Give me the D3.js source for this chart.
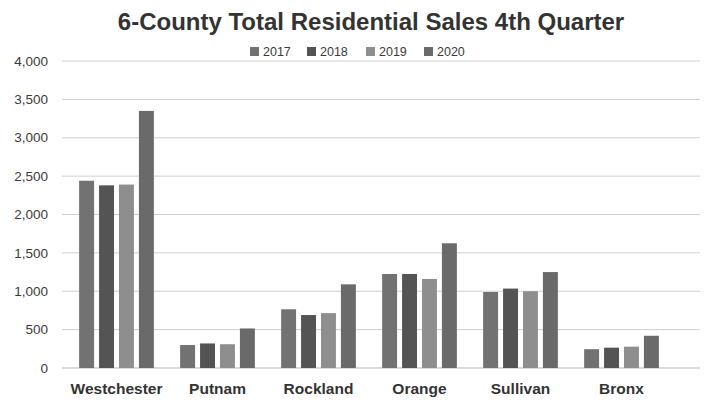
<!DOCTYPE html>
<html>
<head>
<meta charset="utf-8">
<script src="https://cdn.jsdelivr.net/npm/d3@7"></script>
<style>
  body { margin: 0; background: #fff; }
  text { font-family: "Liberation Sans", Arial, sans-serif; }
  .title { font-size: 24px; font-weight: bold; fill: #333; }
  .ytick text { font-size: 13.5px; fill: #3a3a3a; }
  .xlab { font-size: 15.5px; font-weight: bold; fill: #333; }
  .legend text { font-size: 12.5px; fill: #3a3a3a; }
</style>
</head>
<body>
<div class="canvas"></div>
<script>
// data
var counties = ["Westchester", "Putnam", "Rockland", "Orange", "Sullivan", "Bronx"];
var years = ["2017", "2018", "2019", "2020"];
var sales2017 = [2440, 300, 765, 1225, 990, 245];
var sales2018 = [2380, 320, 690, 1225, 1035, 265];
var sales2019 = [2390, 310, 715, 1160, 1000, 278];
var sales2020 = [3350, 515, 1090, 1625, 1250, 420];
var yTicks = [0, 500, 1000, 1500, 2000, 2500, 3000, 3500, 4000];

var series = [sales2017, sales2018, sales2019, sales2020];
var colors = ["#727272", "#545454", "#8e8e8e", "#6a6a6a"];

var svg = d3.select(".canvas")
    .append("svg")
    .attr("width", 710)
    .attr("height", 401);

var y = d3.scaleLinear().domain([0, 4000]).range([368, 61]);

var x = d3.scaleBand()
    .domain(counties)
    .range([66, 672])
    .paddingInner(0.26)
    .paddingOuter(0.13);

var xi = d3.scaleBand()
    .domain(years)
    .range([0, x.bandwidth()])
    .paddingInner(0.25);

// title
svg.append("text")
    .attr("class", "title")
    .attr("x", 371)
    .attr("y", 30)
    .attr("text-anchor", "middle")
    .text("6-County Total Residential Sales 4th Quarter");

// gridlines + y labels
var yAxis = svg.append("g")
    .attr("class", "ytick");

yAxis.selectAll("line")
    .data(yTicks)
    .enter()
    .append("line")
    .attr("x1", 62)
    .attr("x2", 700)
    .attr("y1", function(d){ return y(d); })
    .attr("y2", function(d){ return y(d); })
    .attr("stroke", function(d){ return d === 0 ? "#b5b5b5" : "#cfcfcf"; })
    .attr("stroke-width", 1);

yAxis.selectAll("text")
    .data(yTicks)
    .enter()
    .append("text")
    .attr("x", 48)
    .attr("y", function(d){ return y(d); })
    .attr("dy", "0.35em")
    .attr("text-anchor", "end")
    .text(function(d){ return d3.format(",")(d); });

// bars
var groups = svg.selectAll(".county")
    .data(counties)
    .enter()
    .append("g")
    .attr("class", "county")
    .attr("transform", function(d){ return "translate(" + x(d) + ",0)"; });

groups.selectAll("rect")
    .data(function(d, i){
        return years.map(function(yr, j){ return {year: yr, value: series[j][i], k: j}; });
    })
    .enter()
    .append("rect")
    .attr("x", function(d){ return xi(d.year); })
    .attr("width", xi.bandwidth())
    .attr("y", function(d){ return y(d.value); })
    .attr("height", function(d){ return y(0) - y(d.value); })
    .attr("fill", function(d){ return colors[d.k]; });

// x labels
svg.selectAll(".xlab")
    .data(counties)
    .enter()
    .append("text")
    .attr("class", "xlab")
    .attr("x", function(d){ return x(d) + x.bandwidth() / 2; })
    .attr("y", 394)
    .attr("text-anchor", "middle")
    .text(function(d){ return d; });

// legend
var legendX = [250, 307, 366, 424];
var legend = svg.append("g").attr("class", "legend");

legend.selectAll("rect")
    .data(years)
    .enter()
    .append("rect")
    .attr("x", function(d, i){ return legendX[i]; })
    .attr("y", 47)
    .attr("width", 9)
    .attr("height", 9)
    .attr("fill", function(d, i){ return colors[i]; });

legend.selectAll("text")
    .data(years)
    .enter()
    .append("text")
    .attr("x", function(d, i){ return legendX[i] + 13; })
    .attr("y", 56)
    .text(function(d){ return d; });
</script>
</body>
</html>
